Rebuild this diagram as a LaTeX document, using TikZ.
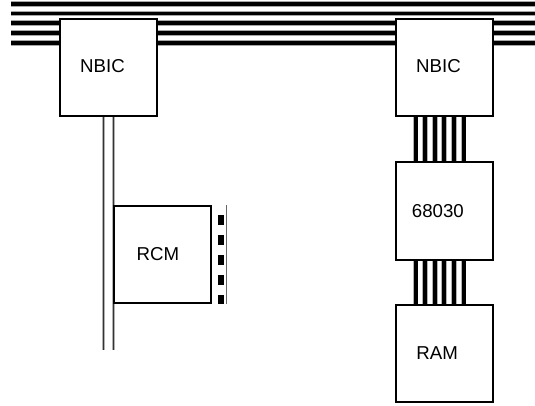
\documentclass[tikz,border=0pt]{standalone}
\usepackage{fontspec}
\setmainfont{Liberation Sans}
\usetikzlibrary{positioning}

\begin{document}
\begin{tikzpicture}[
  x=0.75pt, y=-0.75pt,
  box/.style={draw, line width=1.5pt, fill=white, minimum width=72.75pt, minimum height=72.75pt, inner sep=0pt},
  txt/.style={font=\fontsize{14}{16}\selectfont, inner sep=0pt},
  wire/.style={line width=2.4pt, preaction={draw=black!35, line width=3.9pt}},
  rail/.style={line width=1.1pt, draw=black!80, preaction={draw=black!30, line width=1.9pt}},
  bar/.style={line width=3pt, preaction={draw=black!30, line width=4.4pt}},
  port/.style={line width=4.5pt, dash pattern=on 7.5pt off 7.5pt, dash phase=7.5pt},
  node distance=33pt
]
  \useasboundingbox (0,0) rectangle (535,406);
  % system bus
  \foreach \y in {4,13.5,23,33,43} {
    \coordinate (busW) at (11,\y);
    \coordinate (busE) at (535,\y);
    \draw[wire] (busW) -- (busE);
  }
  \node[box, label={[txt, xshift=-4.5pt, yshift=1.5pt]center:NBIC}] (nbicL) at (108.5,68) {};
  \node[box, label={[txt, xshift=-4.5pt, yshift=1.5pt]center:NBIC}] (nbicR) at (444.5,68) {};
  \node[box, below=of nbicR, label={[txt, xshift=-5pt]center:68030}] (cpu) {};
  \node[box, below=32.5pt of cpu, label={[txt, xshift=-5.5pt]center:RAM}] (ram) {};
  % local bus
  \coordinate (lbEnd) at (108.5,350);
  \foreach \dx in {-5,5}
    \draw[rail] ([xshift=\dx*0.75pt]nbicL.south) -- ([xshift=\dx*0.75pt]lbEnd);
  \node[box, label={[txt, xshift=-3.5pt]center:RCM}] (rcm) at (162.5,254.5) {};
  \draw[line width=0.75pt, black!60] ([xshift=10.5pt]rcm.north east) -- ([xshift=10.5pt]rcm.south east);
  \draw[port] ([xshift=7pt]rcm.north east) -- ([xshift=7pt]rcm.south east);
  % processor bus
  \foreach \dx in {-29,-19.4,-9.8,-0.2,9.4,19} {
    \draw[bar] ([xshift=\dx*0.75pt]nbicR.south) -- ([xshift=\dx*0.75pt]cpu.north);
    \draw[bar] ([xshift=\dx*0.75pt]cpu.south) -- ([xshift=\dx*0.75pt]ram.north);
  }
\end{tikzpicture}
\end{document}
